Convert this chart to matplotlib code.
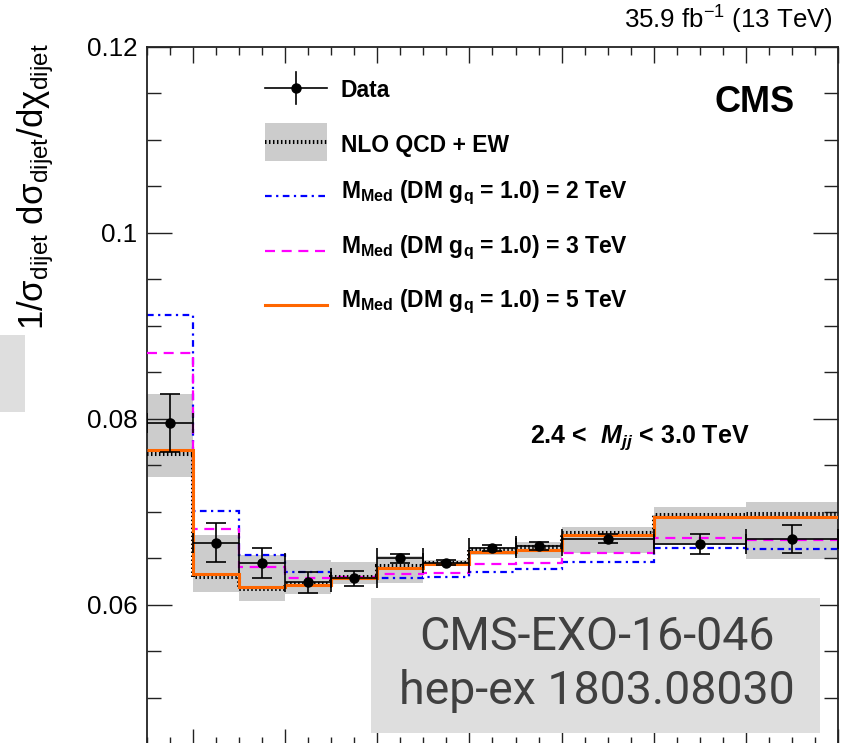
import matplotlib
matplotlib.use("Agg")
import matplotlib.pyplot as plt
import numpy as np
from matplotlib.patches import Rectangle
from matplotlib.lines import Line2D
from matplotlib.ticker import MultipleLocator, FixedLocator, NullFormatter, FixedFormatter

plt.rcParams['font.family'] = ['Liberation Sans', 'DejaVu Sans']
plt.rcParams['mathtext.fontset'] = 'custom'
plt.rcParams['mathtext.rm'] = 'Liberation Sans'
plt.rcParams['mathtext.it'] = 'Liberation Sans:italic'
plt.rcParams['mathtext.bf'] = 'Liberation Sans:bold'
plt.rcParams['mathtext.sf'] = 'Liberation Sans'
try:
    plt.rcParams['mathtext.bfit'] = 'Liberation Sans:bold:italic'
except Exception:
    pass

# ---------------- data ----------------
chi_edges = [1, 2, 3, 4, 5, 6, 7, 8, 9, 10, 12, 14, 16]
data_vals = [0.07954, 0.06670, 0.06455, 0.06244, 0.06285, 0.06502, 0.06455, 0.06610, 0.06634, 0.06712, 0.06656, 0.06713]
data_err = [0.0031, 0.0021, 0.0016, 0.0011, 0.0008, 0.0005, 0.0003, 0.0003, 0.0004, 0.0005, 0.0011, 0.0015]
qcd_vals = [0.07624, 0.06298, 0.06169, 0.06230, 0.06300, 0.06423, 0.06455, 0.06591, 0.06620, 0.06778, 0.06968, 0.06975]
qcd_up = [0.08269, 0.06753, 0.06538, 0.06484, 0.06466, 0.06527, 0.06484, 0.06620, 0.06674, 0.06842, 0.07051, 0.07111]
qcd_dn = [0.07373, 0.06137, 0.06046, 0.06115, 0.06222, 0.06240, 0.06423, 0.06538, 0.06502, 0.06556, 0.06640, 0.06495]
dm_2tev = [0.09118, 0.07011, 0.06534, 0.06352, 0.06290, 0.06294, 0.06298, 0.06355, 0.06384, 0.06459, 0.06610, 0.06599]
dm_3tev = [0.08706, 0.06814, 0.06412, 0.06287, 0.06300, 0.06337, 0.06341, 0.06444, 0.06450, 0.06559, 0.06717, 0.06699]
dm_5tev = [0.07667, 0.06330, 0.06197, 0.06220, 0.06290, 0.06401, 0.06444, 0.06566, 0.06591, 0.06753, 0.06943, 0.06943]
y_ticks = [0.06, 0.08, 0.1, 0.12]
y_ticklabels = ["0.06", "0.08", "0.1", "0.12"]

legend_labels = ["Data", "NLO QCD + EW",
                 r"$\mathbf{M}_{\mathbf{Med}}$ (DM g$_{\mathbf{q}}$ = 1.0) = 2 TeV",
                 r"$\mathbf{M}_{\mathbf{Med}}$ (DM g$_{\mathbf{q}}$ = 1.0) = 3 TeV",
                 r"$\mathbf{M}_{\mathbf{Med}}$ (DM g$_{\mathbf{q}}$ = 1.0) = 5 TeV"]

# ---------------- figure ----------------
W, H = 853, 743
fig = plt.figure(figsize=(W / 100, H / 100), dpi=100)


def px(x, y):
    return (x / W, 1 - y / H)


ax_l, ax_r, ax_t, ax_b = 147, 838, 47, 744.5
ax = fig.add_axes([ax_l / W, 1 - ax_b / H, (ax_r - ax_l) / W, (ax_b - ax_t) / H])

edges = np.array(chi_edges, dtype=float)
centers = 0.5 * (edges[:-1] + edges[1:])
halfw = 0.5 * (edges[1:] - edges[:-1])

BLUE = '#0000ff'
MAG = '#ff00ff'
ORANGE = '#ff6600'
GREY = '#cccccc'

dot_style = (0, (0.37, 0.62))
dd_style = (0, (3.0, 2.0, 1.0, 2.0))
dash_style = (0, (4.5, 3.0))

ax.stairs(qcd_up, edges, baseline=qcd_dn, fill=True, color=GREY, lw=0, zorder=1)
ax.stairs(dm_2tev, edges, baseline=None, color=BLUE, lw=1.6, linestyle=dd_style, zorder=2)
ax.stairs(dm_3tev, edges, baseline=None, color=MAG, lw=1.6, linestyle=dash_style, zorder=3)
ax.stairs(qcd_vals, edges, baseline=None, color='black', lw=2.9, linestyle=dot_style, zorder=4)
ax.stairs(dm_5tev, edges, baseline=None, color=ORANGE, lw=2.2, zorder=5)
ax.errorbar(centers, data_vals, yerr=data_err, xerr=halfw, fmt='o', color='black',
            ms=6.5, elinewidth=1.2, capsize=7.5, capthick=1.2, zorder=6)

ax.set_xlim(1, 16)
ax.set_ylim(0.045, 0.12)

ax.xaxis.set_major_locator(MultipleLocator(2))
ax.xaxis.set_minor_locator(MultipleLocator(0.5))
ax.xaxis.set_major_formatter(NullFormatter())
ax.yaxis.set_major_locator(FixedLocator(y_ticks))
ax.yaxis.set_major_formatter(FixedFormatter(y_ticklabels))
ax.yaxis.set_minor_locator(MultipleLocator(0.005))
ax.tick_params(which='both', direction='in', top=True, right=True, width=1.0, color='#222222')
ax.tick_params(axis='y', which='major', length=18, labelsize=18.7, pad=7)
ax.tick_params(axis='y', which='minor', length=10)
ax.tick_params(axis='x', which='major', length=11.5)
ax.tick_params(axis='x', which='minor', length=6)
for s in ax.spines.values():
    s.set_linewidth(1.3)
    s.set_color('#222222')

# ---------------- texts ----------------
fig.text(*px(36, 43),
         r"1/σ$_{\mathrm{dijet}}$ dσ$_{\mathrm{dijet}}$/dχ$_{\mathrm{dijet}}$",
         rotation=90, ha='center', va='top', fontsize=25)
fig.text(*px(833, 28.3), r"35.9 fb$^{-1}$ (13 TeV)", ha='right', va='baseline', fontsize=18.6)
fig.text(*px(795, 111.5), "CMS", ha='right', va='baseline', fontsize=26, fontweight='bold')
try:
    mjj = r"2.4 <  $\mathbfit{M}_{\mathbfit{jj}}$ < 3.0 TeV"
    t = fig.text(*px(530, 443), mjj, ha='left', va='baseline', fontsize=18, fontweight='bold')
    fig.canvas.draw()
except Exception:
    t.remove()
    mjj = r"2.4 <  $\mathbf{M}_{\mathbf{jj}}$ < 3.0 TeV"
    fig.text(*px(530, 443), mjj, ha='left', va='baseline', fontsize=18, fontweight='bold')

# ---------------- legend (manual) ----------------
hx0, hx1 = 265, 327
tx = 341
# Data
fig.add_artist(Line2D([px(hx0, 0)[0], px(hx1, 0)[0]], [px(0, 88)[1]] * 2, color='black', lw=1.2))
fig.add_artist(Line2D([px(296, 0)[0]] * 2, [px(0, 72)[1], px(0, 104)[1]], color='black', lw=1.2))
fig.add_artist(Line2D([px(296, 0)[0]], [px(0, 88)[1]], marker='o', color='black', ms=6.5))
fig.text(*px(tx, 96.7), legend_labels[0], ha='left', va='baseline', fontsize=16.5, fontweight='bold')
# NLO
fig.add_artist(Rectangle(px(hx0, 161), (hx1 - hx0) / W, 38 / H, transform=fig.transFigure,
                         facecolor=GREY, edgecolor='none'))
fig.add_artist(Line2D([px(hx0, 0)[0], px(hx1, 0)[0]], [px(0, 142)[1]] * 2, color='black',
                      lw=2.9, linestyle=dot_style))
fig.text(*px(tx, 151.7), legend_labels[1], ha='left', va='baseline', fontsize=16.5, fontweight='bold')
# DM lines
for (ly, by, col, ls, lw, lab) in [(196, 198.3, BLUE, dd_style, 1.6, legend_labels[2]),
                                   (250.7, 252.7, MAG, dash_style, 1.6, legend_labels[3]),
                                   (305, 307.1, ORANGE, '-', 2.2, legend_labels[4])]:
    fig.add_artist(Line2D([px(hx0, 0)[0], px(hx1, 0)[0]], [px(0, ly)[1]] * 2, color=col,
                          lw=lw, linestyle=ls))
    fig.text(*px(tx, by), lab, ha='left', va='baseline', fontsize=16.5, fontweight='bold')

# ---------------- watermark boxes ----------------
fig.add_artist(Rectangle(px(371, 733), (820 - 371) / W, (733 - 598) / H, transform=fig.transFigure,
                         facecolor='#dedede', edgecolor='none', zorder=10))
fig.text(*px(597, 637), "CMS-EXO-16-046", ha='center', va='center', fontsize=33.5,
         family='Roboto', color='#404040', zorder=11)
fig.text(*px(597, 691), "hep-ex 1803.08030", ha='center', va='center', fontsize=33.5,
         family='Roboto', color='#404040', zorder=11)
fig.add_artist(Rectangle(px(0, 412), 25 / W, 77 / H, transform=fig.transFigure,
                         facecolor='#dedede', edgecolor='none', zorder=10))

fig.savefig("out.png", dpi=100)
